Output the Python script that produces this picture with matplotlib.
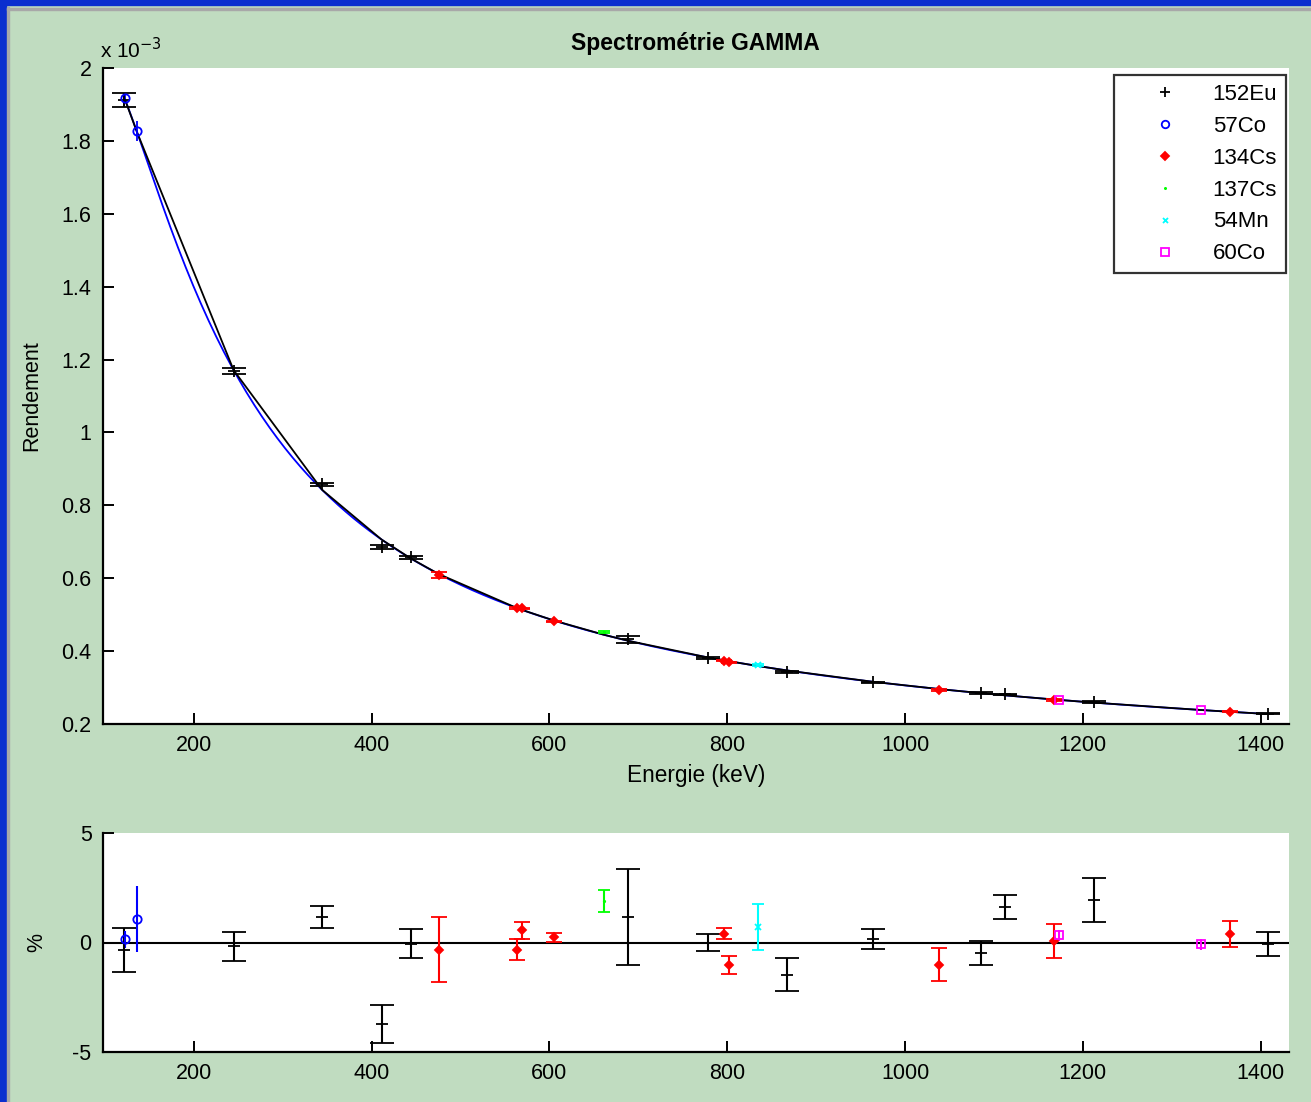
import matplotlib

matplotlib.use("Agg")
import matplotlib.pyplot as plt
from matplotlib.lines import Line2D
from matplotlib.patches import Rectangle
import numpy as np

plt.rcParams["font.family"] = ["Liberation Sans", "DejaVu Sans"]
plt.rcParams["font.size"] = 15
plt.rcParams["axes.unicode_minus"] = False

# --- data (efficiency in units of 1e-3, residuals in %) ---
E_EU = [121.78, 244.70, 344.28, 411.12, 443.96, 688.67, 778.90, 867.38, 964.08,
        1085.84, 1112.08, 1212.95, 1408.01]
EFF_EU = [1.912, 1.168, 0.858, 0.685, 0.658, 0.433, 0.381, 0.343, 0.315,
          0.285, 0.282, 0.260, 0.228]
RES_EU = [-0.33, -0.17, 1.16, -3.71, -0.05, 1.16, 0.0, -1.48, 0.15, -0.47, 1.63, 1.93, -0.06]
ERR_EU = [1.0, 0.66, 0.51, 0.86, 0.65, 2.18, 0.39, 0.75, 0.46, 0.55, 0.55, 1.0, 0.54]

E_CO57 = [122.06, 136.47]
EFF_CO57 = [1.918, 1.826]
RES_CO57 = [0.14, 1.08]
ERR_CO57 = [0.38, 1.5]

E_CS134 = [475.36, 563.23, 569.33, 604.72, 795.86, 801.95, 1038.61, 1167.97, 1365.19]
EFF_CS134 = [0.609, 0.518, 0.517, 0.482, 0.374, 0.369, 0.293, 0.266, 0.233]
RES_CS134 = [-0.32, -0.32, 0.55, 0.23, 0.40, -1.02, -1.02, 0.08, 0.40]
ERR_CS134 = [1.5, 0.46, 0.38, 0.2, 0.24, 0.4, 0.75, 0.78, 0.6]

E_CS137 = [661.66]
EFF_CS137 = [0.452]
RES_CS137 = [1.89]
ERR_CS137 = [0.5]

E_MN54 = [834.85]
EFF_MN54 = [0.362]
RES_MN54 = [0.70]
ERR_MN54 = [1.06]

E_CO60 = [1173.23, 1332.49]
EFF_CO60 = [0.266, 0.238]
RES_CO60 = [0.33, -0.09]
ERR_CO60 = [0.25, 0.25]

# (label, energies, eff, res, err, color, marker, markersize, filled, capsize)
SOURCES = [
    ("152Eu", E_EU, EFF_EU, RES_EU, ERR_EU, "black", "+", 8, False, 8.5),
    ("57Co", E_CO57, EFF_CO57, RES_CO57, ERR_CO57, "#0000ff", "o", 6, False, 0),
    ("134Cs", E_CS134, EFF_CS134, RES_CS134, ERR_CS134, "#ff0000", "D", 4.5, True, 5.5),
    ("137Cs", E_CS137, EFF_CS137, RES_CS137, ERR_CS137, "#00ff00", ".", 2, True, 4),
    ("54Mn", E_MN54, EFF_MN54, RES_MN54, ERR_MN54, "#00ffff", "x", 4, False, 4.5),
    ("60Co", E_CO60, EFF_CO60, RES_CO60, ERR_CO60, "#ff00ff", "s", 6, False, 0),
]

BG = "#c0dcc0"
W, H = 1311, 1102
fig = plt.figure(figsize=(W / 100, H / 100), dpi=100, facecolor=BG)

# window frame bits
fig.patches.append(Rectangle((0, 0), 6 / W, 1, transform=fig.transFigure, color="#0b2ecf", zorder=0))
fig.patches.append(Rectangle((0, 1 - 5 / H), 1, 5 / H, transform=fig.transFigure, color="#0b2ecf", zorder=0))
fig.patches.append(Rectangle((7 / W, 0), 2 / W, 1 - 7 / H, transform=fig.transFigure, color="#a8a8a8", zorder=0))
fig.patches.append(Rectangle((7 / W, 1 - 10 / H), 1, 2 / H, transform=fig.transFigure, color="#a8a8a8", zorder=0))

left, right = 102.7 / W, 1289 / W
ax = fig.add_axes([left, 1 - 724 / H, right - left, (724 - 68) / H])
axr = fig.add_axes([left, 1 - 1052 / H, right - left, (1052 - 833) / H])

# log-log polynomial fit of all points: black = fit at the measured energies,
# blue = same fit on a fine grid
e_all = np.concatenate([s[1] for s in SOURCES])
f_all = np.concatenate([s[2] for s in SOURCES])
coef = np.polyfit(np.log(e_all), np.log(f_all), 4)
xs = np.linspace(e_all.min(), e_all.max(), 300)
ax.plot(xs, np.exp(np.polyval(coef, np.log(xs))), color="#0000ff", lw=1.3, zorder=1)
es = np.sort(e_all)
ax.plot(es, np.exp(np.polyval(coef, np.log(es))), color="black", lw=1.3, zorder=2)

handles = []
for lbl, e, f, r, err, c, m, ms, filled, cap in SOURCES:
    e = np.array(e); f = np.array(f); r = np.array(r); err = np.array(err)
    mfc = c if filled else "none"
    ax.errorbar(e, f, yerr=f * err / 100, fmt=m, color=c, ms=ms, mfc=mfc, mec=c,
                capsize=cap, elinewidth=1.3, capthick=1.6, mew=1.3, zorder=3)
    axr.errorbar(e, r, yerr=err, fmt=m, color=c, ms=ms, mfc=mfc, mec=c,
                 capsize=cap, elinewidth=1.5, capthick=1.8, mew=1.3, zorder=3)
    handles.append(Line2D([], [], ls="none", marker=m, color=c, mfc=mfc, mec=c,
                          ms=ms * 0.9, mew=1.3, label=lbl))

axr.axhline(0, color="black", lw=1.5, zorder=2)

for a in (ax, axr):
    a.set_facecolor("white")
    a.set_xlim(97.4, 1432)
    a.set_xticks(range(200, 1401, 200))
    for sp in ("top", "right"):
        a.spines[sp].set_visible(False)
    for sp in ("left", "bottom"):
        a.spines[sp].set_linewidth(1.6)
    a.tick_params(direction="in", length=8, width=1.4, labelsize=15.5, pad=8)

ax.set_ylim(0.2, 2.0)
ax.set_yticks(np.arange(0.2, 2.01, 0.2))
ax.set_yticklabels(["0.2", "0.4", "0.6", "0.8", "1", "1.2", "1.4", "1.6", "1.8", "2"])
ax.set_xlabel("Energie (keV)", fontsize=16.3, labelpad=6)
ax.set_ylabel("Rendement", fontsize=15.5, labelpad=14)
ax.set_title("Spectrométrie GAMMA", fontsize=16.5, fontweight="bold", pad=13)
fig.text(100 / W, 1 - 58 / H, r"x 10$^{-3}$", fontsize=15, ha="left", va="baseline")

axr.set_ylim(-5, 5)
axr.set_yticks([-5, 0, 5])
axr.set_ylabel("%", fontsize=15.5)
axr.yaxis.set_label_coords((47 - 102.7) / (1289 - 102.7), 0.5)

leg = ax.legend(handles=handles, loc="upper right", bbox_to_anchor=(1286 / W, 1 - 75 / H),
                bbox_transform=fig.transFigure,
                fontsize=16, frameon=True, fancybox=False, handlelength=3.8,
                handletextpad=0.25, labelspacing=0.49, borderpad=0.4, borderaxespad=0.0)
leg.get_frame().set_edgecolor("black")
leg.get_frame().set_linewidth(1.6)

fig.savefig("out.png", dpi=100, facecolor=BG)
